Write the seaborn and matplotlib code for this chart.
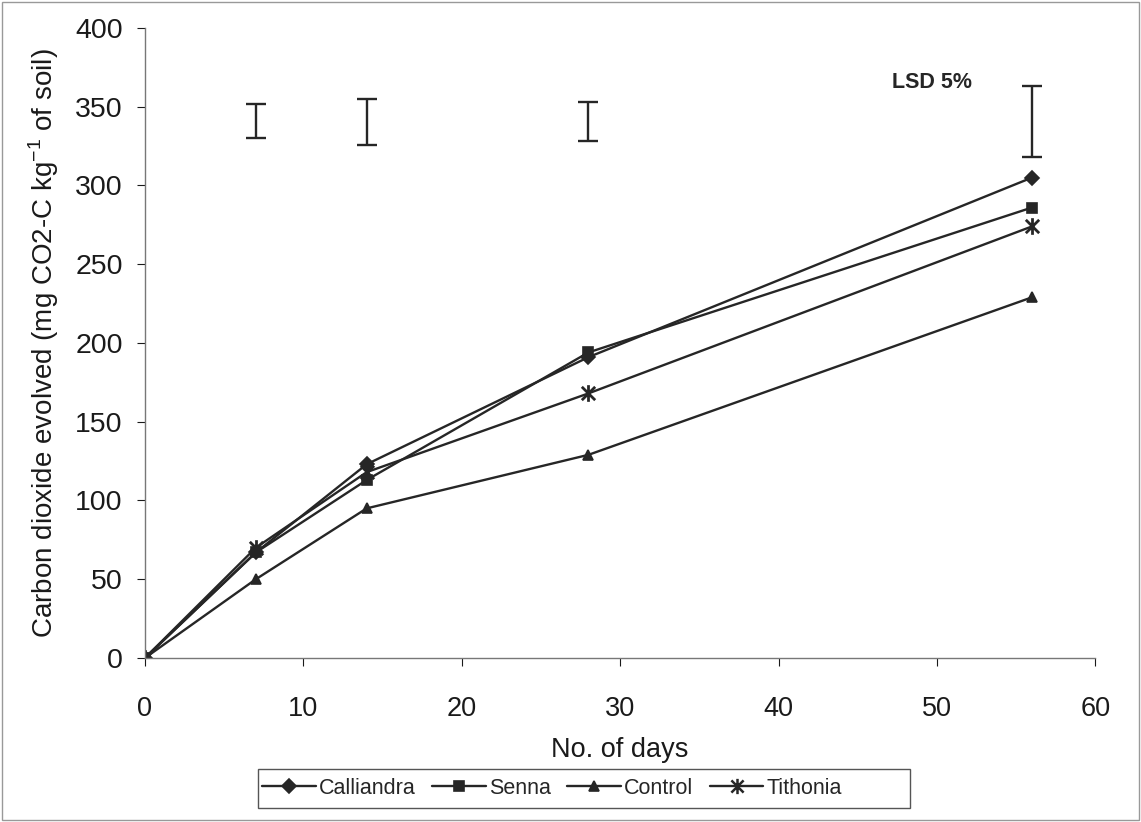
import numpy as np
import pandas as pd
import seaborn as sns
import matplotlib
matplotlib.use("Agg")
import matplotlib.pyplot as plt
from matplotlib.path import Path
from matplotlib.patches import Rectangle

# Cumulative CO2 evolved during incubation
days = [0, 7, 14, 28, 56]
calliandra = [0, 67, 123, 191, 305]
senna = [0, 67, 113, 194, 286]
control = [0, 50, 95, 129, 229]
tithonia = [0, 70, 118, 168, 274]
treatments = ["Calliandra", "Senna", "Control", "Tithonia"]

# LSD (5%) bars at each sampling day: lower and upper ends
lsd_days = [7, 14, 28, 56]
lsd_low = [330, 326, 328, 318]
lsd_high = [352, 355, 353, 363]

x_ticks = [0, 10, 20, 30, 40, 50, 60]
y_ticks = [0, 50, 100, 150, 200, 250, 300, 350, 400]

sns.set_theme(style="white")
plt.rcParams["font.family"] = ["Liberation Sans", "DejaVu Sans"]

series = {"Calliandra": calliandra, "Senna": senna, "Control": control, "Tithonia": tithonia}
df = pd.DataFrame(
    [(d, v, name) for name in treatments for d, v in zip(days, series[name])],
    columns=["day", "co2", "treatment"],
)

# asterisk marker: an X crossed by a vertical stroke
star = Path(
    [(-1, -1), (1, 1), (-1, 1), (1, -1), (0, -1.25), (0, 1.25)],
    [Path.MOVETO, Path.LINETO, Path.MOVETO, Path.LINETO, Path.MOVETO, Path.LINETO],
)
markers = {"Calliandra": "D", "Senna": "s", "Control": "^", "Tithonia": star}
ink = "#262626"

fig = plt.figure(figsize=(11.41, 8.22), dpi=100)
ax = fig.add_axes([0.127, 0.1995, 0.833, 0.7665])

sns.lineplot(
    data=df, x="day", y="co2", hue="treatment", style="treatment",
    hue_order=treatments, style_order=treatments,
    palette=[ink] * 4, markers=markers, dashes=False,
    linewidth=1.7, markersize=7.5, markeredgecolor=ink, markeredgewidth=1.2,
    ax=ax, legend=True,
)

def enlarge_star(lines, size, width):
    for ln in lines:
        if isinstance(ln.get_marker(), Path):
            ln.set_markersize(size)
            ln.set_markeredgewidth(width)

enlarge_star(ax.lines, 12, 2.0)

mid = [(lo + hi) / 2 for lo, hi in zip(lsd_low, lsd_high)]
half = [(hi - lo) / 2 for lo, hi in zip(lsd_low, lsd_high)]
ax.errorbar(lsd_days, mid, yerr=half, fmt="none", ecolor=ink,
            elinewidth=1.7, capsize=7.5, capthick=1.7)
ax.text(0.828, 0.913, "LSD 5%", transform=ax.transAxes, fontsize=15.5,
        fontweight="bold", color=ink, ha="center", va="center")

ax.set_xlim(0, 60)
ax.set_ylim(0, 400)
ax.set_xticks(x_ticks)
ax.set_yticks(y_ticks)
ax.tick_params(axis="both", colors="#1a1a1a", length=6,
               width=0.8, direction="out", bottom=True, left=True)
ax.tick_params(axis="y", labelsize=20.5, pad=10)
ax.tick_params(axis="x", labelsize=19.5, pad=21)
for side in ("top", "right"):
    ax.spines[side].set_visible(False)
for side in ("left", "bottom"):
    ax.spines[side].set_color("#777777")
    ax.spines[side].set_linewidth(1.0)

ax.set_xlabel("No. of days", fontsize=19.5, color="#1a1a1a", labelpad=11)
ax.set_ylabel(r"Carbon dioxide evolved (mg CO2-C kg$^{\mathregular{-1}}$ of soil)",
              fontsize=20, color="#1a1a1a", labelpad=10)

handles, labels = ax.get_legend_handles_labels()
ax.get_legend().remove()
enlarge_star(handles, 11, 1.8)
fig.legend(handles, labels, loc="center left", bbox_to_anchor=(0.226, 0.041),
           ncol=4, frameon=False, fontsize=15.5,
           handlelength=2.5, handletextpad=0.15, columnspacing=0.75,
           borderpad=0.2, borderaxespad=0)

# legend box, with the wide right margin of a spreadsheet legend
fig.patches.append(Rectangle((0.2261, 0.017), 0.5715, 0.047, transform=fig.transFigure,
                             fill=False, edgecolor="#555555", linewidth=1.0))
fig.patches.append(Rectangle((0.002, 0.002), 0.996, 0.996, transform=fig.transFigure,
                             fill=False, edgecolor="#999999", linewidth=1.0))

fig.savefig("out.png", dpi=100)
